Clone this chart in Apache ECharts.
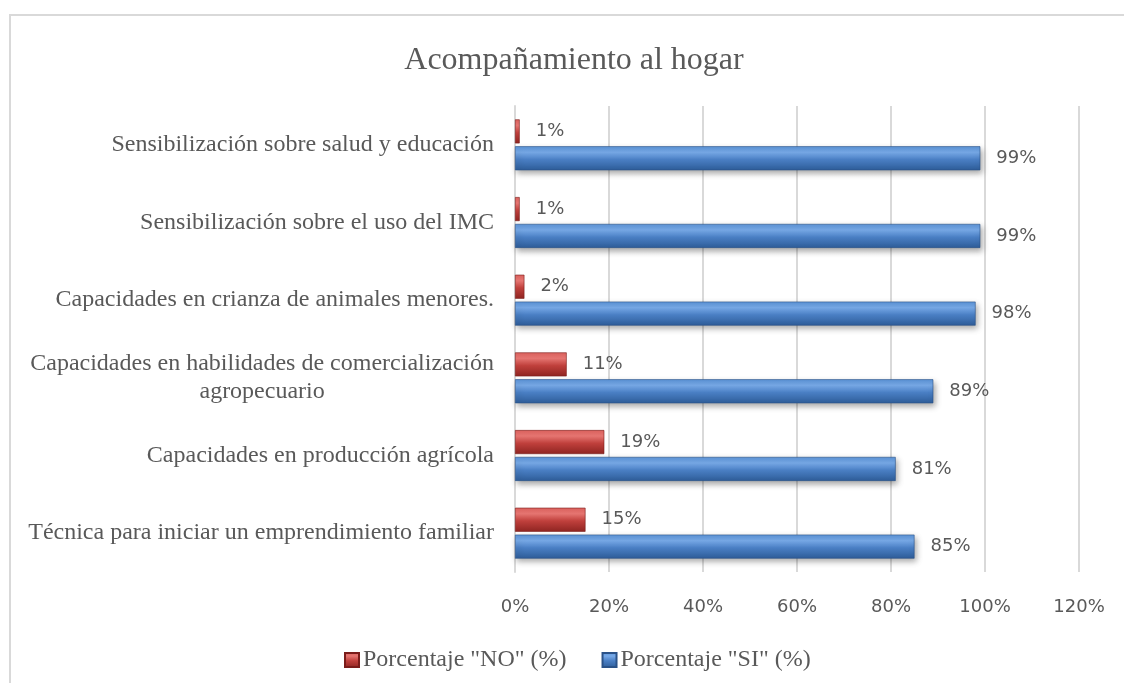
<!DOCTYPE html>
<html>
<head>
<meta charset="utf-8">
<script src="https://cdn.jsdelivr.net/npm/echarts@6/dist/echarts.min.js"></script>
<style>
  html, body { margin: 0; padding: 0; background: #fff; }
  #chart { width: 1124px; height: 683px; }
</style>
</head>
<body>
<div id="chart"></div>
<script>
// categorías (de arriba hacia abajo)
const categories = [
  'Sensibilización sobre salud y educación',
  'Sensibilización sobre el uso del IMC',
  'Capacidades en crianza de animales menores.',
  'Capacidades en habilidades de comercialización\nagropecuario',
  'Capacidades en producción agrícola',
  'Técnica para iniciar un emprendimiento familiar'
];
const porcentajeNo = [1, 1, 2, 11, 19, 15];
const porcentajeSi = [99, 99, 98, 89, 81, 85];
const xTicks = { min: 0, max: 120, interval: 20 };

const textColor = '#595959';
const serif = '"Liberation Serif", "Times New Roman", serif';
const sans = '"DejaVu Sans", sans-serif';

// degradados tipo bisel
const redFill = new echarts.graphic.LinearGradient(0, 0, 0, 1, [
  { offset: 0, color: '#d9605c' },
  { offset: 0.25, color: '#e57571' },
  { offset: 0.55, color: '#c0403c' },
  { offset: 1, color: '#8e2421' }
]);
const blueFill = new echarts.graphic.LinearGradient(0, 0, 0, 1, [
  { offset: 0, color: '#5b93d8' },
  { offset: 0.25, color: '#78aae8' },
  { offset: 0.55, color: '#4a7fc4' },
  { offset: 1, color: '#2e5d99' }
]);

const chart = echarts.init(document.getElementById('chart'));

chart.setOption({
  animation: false,
  backgroundColor: '#fff',
  graphic: [
    {
      type: 'rect',
      shape: { x: 10, y: 15, width: 1200, height: 800 },
      style: { fill: 'none', stroke: '#d9d9d9', lineWidth: 2 },
      silent: true
    }
  ],
  title: {
    text: 'Acompañamiento al hogar',
    left: 569,
    textAlign: 'center',
    top: 40,
    textStyle: {
      fontFamily: serif,
      fontSize: 32,
      fontWeight: 'normal',
      color: textColor
    }
  },
  legend: {
    top: 643,
    left: 339,
    itemWidth: 14,
    itemHeight: 14,
    itemGap: 35,
    icon: 'rect',
    textStyle: { fontFamily: serif, fontSize: 24, color: textColor, padding: [0, 0, 0, -1] },
    data: ['Porcentaje "NO" (%)', 'Porcentaje "SI" (%)']
  },
  grid: {
    left: 515,
    right: 45,
    top: 106,
    bottom: 111
  },
  xAxis: {
    type: 'value',
    min: xTicks.min,
    max: xTicks.max,
    interval: xTicks.interval,
    axisLine: { show: false },
    axisTick: { show: false },
    splitLine: { lineStyle: { color: '#d9d9d9', width: 2 } },
    axisLabel: {
      formatter: '{value}%',
      fontFamily: sans,
      fontSize: 18,
      color: textColor,
      margin: 26
    }
  },
  yAxis: {
    type: 'category',
    inverse: true,
    data: categories,
    axisLine: { lineStyle: { color: '#d9d9d9', width: 2 } },
    axisTick: { show: false },
    axisLabel: {
      fontFamily: serif,
      fontSize: 24,
      color: textColor,
      margin: 21,
      lineHeight: 28,
      formatter: function (v) {
        const parts = v.split('\n');
        if (parts.length > 1) {
          return parts[0] + '\n{c|' + parts[1] + '}';
        }
        return v;
      },
      rich: {
        c: { align: 'center', fontFamily: serif, fontSize: 24, lineHeight: 28, color: textColor }
      }
    }
  },
  series: [
    {
      name: 'Porcentaje "NO" (%)',
      type: 'bar',
      data: porcentajeNo,
      barWidth: 24,
      barGap: '12%',
      itemStyle: { color: redFill, borderColor: '#7a1c1a', borderWidth: 0.6 },
      label: {
        show: true,
        position: 'right',
        distance: 16,
        formatter: '{c}%',
        fontFamily: sans,
        fontSize: 18,
        color: textColor
      }
    },
    {
      name: 'Porcentaje "SI" (%)',
      type: 'bar',
      data: porcentajeSi,
      barWidth: 24,
      itemStyle: {
        color: blueFill,
        borderColor: '#2a5288',
        borderWidth: 0.6,
        shadowColor: 'rgba(0,0,0,0.35)',
        shadowBlur: 6,
        shadowOffsetX: 2,
        shadowOffsetY: 3
      },
      label: {
        show: true,
        position: 'right',
        distance: 16,
        formatter: '{c}%',
        fontFamily: sans,
        fontSize: 18,
        color: textColor
      }
    }
  ]
});
</script>
</body>
</html>
